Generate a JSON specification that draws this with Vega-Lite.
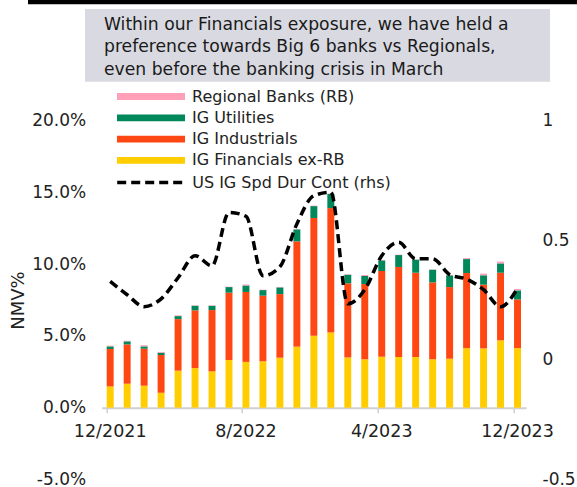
{
  "$schema": "https://vega.github.io/schema/vega-lite/v6.json",
  "width": 424.3,
  "height": 359,
  "autosize": {"type": "none"},
  "padding": {"left": 101.7, "top": 120.5, "right": 51, "bottom": 7.5},
  "background": "white",
  "config": {
    "font": "DejaVu Sans",
    "view": {"stroke": null},
    "axis": {"labelFont": "DejaVu Sans", "labelFontSize": 17, "labelColor": "#222222", "titleFont": "DejaVu Sans", "titleColor": "#222222"},
    "legend": {"labelFont": "DejaVu Sans", "labelColor": "#222222", "labelLimit": 400}
  },
  "data": {
    "values": [
      {"month": "12/2021", "IG Financials ex-RB": 1.48, "IG Industrials": 2.61, "IG Utilities": 0.18, "Regional Banks (RB)": 0.05, "spd": 0.328},
      {"month": "1/2022", "IG Financials ex-RB": 1.67, "IG Industrials": 2.74, "IG Utilities": 0.21, "Regional Banks (RB)": 0.04, "spd": 0.272},
      {"month": "2/2022", "IG Financials ex-RB": 1.53, "IG Industrials": 2.58, "IG Utilities": 0.16, "Regional Banks (RB)": 0.08, "spd": 0.222},
      {"month": "3/2022", "IG Financials ex-RB": 1.04, "IG Industrials": 2.63, "IG Utilities": 0.16, "Regional Banks (RB)": 0.05, "spd": 0.255},
      {"month": "4/2022", "IG Financials ex-RB": 2.58, "IG Industrials": 3.59, "IG Utilities": 0.21, "Regional Banks (RB)": 0.05, "spd": 0.343},
      {"month": "5/2022", "IG Financials ex-RB": 2.76, "IG Industrials": 4.02, "IG Utilities": 0.32, "Regional Banks (RB)": 0.03, "spd": 0.435},
      {"month": "6/2022", "IG Financials ex-RB": 2.53, "IG Industrials": 4.27, "IG Utilities": 0.30, "Regional Banks (RB)": 0.03, "spd": 0.393},
      {"month": "7/2022", "IG Financials ex-RB": 3.32, "IG Industrials": 4.69, "IG Utilities": 0.39, "Regional Banks (RB)": 0.03, "spd": 0.616},
      {"month": "8/2022", "IG Financials ex-RB": 3.19, "IG Industrials": 4.87, "IG Utilities": 0.45, "Regional Banks (RB)": 0.07, "spd": 0.600},
      {"month": "9/2022", "IG Financials ex-RB": 3.23, "IG Industrials": 4.57, "IG Utilities": 0.39, "Regional Banks (RB)": 0.03, "spd": 0.351},
      {"month": "10/2022", "IG Financials ex-RB": 3.48, "IG Industrials": 4.43, "IG Utilities": 0.47, "Regional Banks (RB)": 0.03, "spd": 0.389},
      {"month": "11/2022", "IG Financials ex-RB": 4.25, "IG Industrials": 7.33, "IG Utilities": 0.84, "Regional Banks (RB)": 0.03, "spd": 0.568},
      {"month": "12/2022", "IG Financials ex-RB": 5.01, "IG Industrials": 8.20, "IG Utilities": 0.83, "Regional Banks (RB)": 0.03, "spd": 0.686},
      {"month": "1/2023", "IG Financials ex-RB": 5.24, "IG Industrials": 8.66, "IG Utilities": 0.98, "Regional Banks (RB)": 0.03, "spd": 0.700},
      {"month": "2/2023", "IG Financials ex-RB": 3.50, "IG Industrials": 5.16, "IG Utilities": 0.60, "Regional Banks (RB)": 0.03, "spd": 0.234},
      {"month": "3/2023", "IG Financials ex-RB": 3.37, "IG Industrials": 5.24, "IG Utilities": 0.56, "Regional Banks (RB)": 0.07, "spd": 0.293},
      {"month": "4/2023", "IG Financials ex-RB": 3.55, "IG Industrials": 5.97, "IG Utilities": 0.74, "Regional Banks (RB)": 0.03, "spd": 0.435},
      {"month": "5/2023", "IG Financials ex-RB": 3.53, "IG Industrials": 6.27, "IG Utilities": 0.83, "Regional Banks (RB)": 0.03, "spd": 0.491},
      {"month": "6/2023", "IG Financials ex-RB": 3.53, "IG Industrials": 5.87, "IG Utilities": 0.91, "Regional Banks (RB)": 0.02, "spd": 0.422},
      {"month": "7/2023", "IG Financials ex-RB": 3.37, "IG Industrials": 5.36, "IG Utilities": 0.88, "Regional Banks (RB)": 0.02, "spd": 0.422},
      {"month": "8/2023", "IG Financials ex-RB": 3.41, "IG Industrials": 4.99, "IG Utilities": 0.82, "Regional Banks (RB)": 0.02, "spd": 0.356},
      {"month": "9/2023", "IG Financials ex-RB": 4.15, "IG Industrials": 5.23, "IG Utilities": 0.97, "Regional Banks (RB)": 0.07, "spd": 0.337},
      {"month": "10/2023", "IG Financials ex-RB": 4.13, "IG Industrials": 4.44, "IG Utilities": 0.65, "Regional Banks (RB)": 0.12, "spd": 0.293},
      {"month": "11/2023", "IG Financials ex-RB": 4.69, "IG Industrials": 4.71, "IG Utilities": 0.65, "Regional Banks (RB)": 0.12, "spd": 0.222},
      {"month": "12/2023", "IG Financials ex-RB": 4.15, "IG Industrials": 3.39, "IG Utilities": 0.63, "Regional Banks (RB)": 0.10, "spd": 0.299}
    ]
  },
  "layer": [
    {
      "data": {"values": [{}]},
      "mark": {"type": "rect", "color": "#d9d9e1"},
      "encoding": {
        "x": {"datum": -0.0394, "type": "quantitative", "scale": {"domain": [0, 1], "nice": false, "zero": false}, "axis": null},
        "x2": {"datum": 1.0566},
        "y": {"datum": 27.77, "type": "quantitative", "scale": {"domain": [-5, 20], "nice": false}, "axis": null},
        "y2": {"datum": 22.69}
      }
    },
    {
      "data": {"values": [{}]},
      "mark": {"type": "rect", "color": "#000000"},
      "encoding": {
        "x": {"datum": -0.1737, "type": "quantitative", "scale": {"domain": [0, 1], "nice": false, "zero": false}, "axis": null},
        "x2": {"datum": 1.13},
        "y": {"datum": 28.7, "type": "quantitative", "scale": {"domain": [-5, 20], "nice": false}, "axis": null},
        "y2": {"datum": 28.09}
      }
    },
    {
      "data": {"values": [{}]},
      "mark": {"type": "text", "text": ["Within our Financials exposure, we have held a", "preference towards Big 6 banks vs Regionals,", "even before the banking crisis in March"], "align": "left", "baseline": "alphabetic", "fontSize": 17.2, "lineHeight": 22.2, "color": "#1a1a1a", "font": "DejaVu Sans"},
      "encoding": {
        "x": {"datum": 0.0054, "type": "quantitative", "scale": {"domain": [0, 1], "nice": false, "zero": false}, "axis": null},
        "y": {"datum": 26.29, "type": "quantitative", "scale": {"domain": [-5, 20], "nice": false}, "axis": null}
      }
    },
    {
      "transform": [{"fold": ["IG Financials ex-RB", "IG Industrials", "IG Utilities", "Regional Banks (RB)"], "as": ["series", "value"]}],
      "mark": {"type": "bar"},
      "encoding": {
        "x": {
          "field": "month", "type": "ordinal", "sort": null,
          "scale": {"type": "band", "paddingInner": 0.59, "paddingOuter": 0.295},
          "axis": {"values": ["12/2021", "8/2022", "4/2023", "12/2023"], "title": null, "offset": -71.8, "bandPosition": 0, "labelAngle": 0, "domainColor": "#d0d0d0", "domainWidth": 2, "tickColor": "#d0d0d0", "tickWidth": 1.5, "tickSize": 5, "labelPadding": 10, "labelFontSize": 17.5}
        },
        "y": {
          "field": "value", "type": "quantitative", "stack": "zero",
          "scale": {"domain": [-5, 20], "nice": false},
          "axis": {"orient": "left", "values": [-5, 0, 5, 10, 15, 20], "labelExpr": "(datum.value < 0 ? '-' : '') + format(abs(datum.value), '.1f') + '%'", "title": "NMV%", "titleFontSize": 18, "titleFontWeight": "normal", "titlePadding": 4, "grid": false, "domain": false, "ticks": false, "labelPadding": 16}
        },
        "color": {
          "field": "series", "type": "nominal",
          "scale": {"domain": ["Regional Banks (RB)", "IG Utilities", "IG Industrials", "IG Financials ex-RB"], "range": ["#ff9fb8", "#00875a", "#ff4713", "#ffcd00"]},
          "legend": {"orient": "none", "legendX": 15.3, "legendY": -32, "title": null, "symbolType": "M-1,-0.1H1V0.1H-1Z", "symbolSize": 4624, "symbolStrokeWidth": 0, "symbolOpacity": 1, "labelFontSize": 16, "labelOffset": 7, "clipHeight": 16, "rowPadding": 5.3, "padding": 0}
        },
        "order": {"field": "series", "sort": "ascending"}
      }
    },
    {
      "mark": {"type": "line", "interpolate": "monotone", "color": "#000000", "strokeWidth": 3.5, "strokeCap": "butt"},
      "encoding": {
        "x": {"field": "month", "type": "ordinal", "sort": null, "axis": null},
        "y": {
          "field": "spd", "type": "quantitative",
          "scale": {"domain": [-0.5, 1], "nice": false},
          "axis": {"orient": "right", "values": [-0.5, 0, 0.5, 1], "labelExpr": "datum.value < 0 ? '-' + abs(datum.value) : '' + datum.value", "title": null, "grid": false, "domain": false, "ticks": false, "labelPadding": 16}
        },
        "strokeDash": {
          "datum": "US IG Spd Dur Cont (rhs)",
          "scale": {"range": [[9, 5]]},
          "legend": {"orient": "none", "legendX": 13.5, "legendY": 54, "title": null, "symbolType": "stroke", "symbolSize": 4624, "symbolStrokeWidth": 3.5, "symbolStrokeColor": "#000000", "labelFontSize": 16, "labelOffset": 5, "clipHeight": 16, "padding": 0}
        }
      }
    }
  ],
  "resolve": {"scale": {"x": "independent", "y": "independent"}}
}
